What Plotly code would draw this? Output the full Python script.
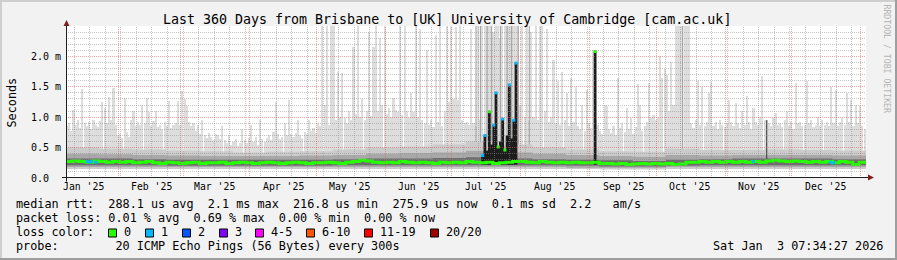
import plotly.graph_objects as go
import pandas as pd

# ---------------- data ----------------
START = "2025-01-08 07:34:27"
END = "2026-01-03 07:34:27"

# daily maximum of the 20 pings (ms); values >= 2.5 are clipped by the axis
smoke_max = [
    0.85, 0.90, 0.78, 1.12, 0.88, 0.95, 0.82, 1.47, 0.90, 0.86,
    0.92, 0.80, 0.96, 0.88, 0.84, 0.93, 1.25, 1.15, 0.90, 1.34,
    0.95, 1.48, 0.88, 0.70, 0.72, 0.66, 1.31, 0.75, 0.68, 0.95,
    1.10, 0.85, 0.92, 0.88, 1.20, 0.90, 1.31, 1.08, 0.86, 0.94,
    1.10, 0.84, 0.88, 0.80, 0.92, 0.86, 1.26, 0.82, 0.88, 0.90,
    1.26, 0.88, 1.43, 1.30, 1.18, 0.92, 0.85, 0.90, 0.78, 0.88,
    0.72, 0.95, 0.70, 0.66, 0.74, 0.68, 0.62, 0.72, 0.70, 0.64,
    0.85, 0.62, 0.58, 0.70, 0.55, 0.60, 0.64, 0.52, 0.58, 0.80,
    0.62, 0.58, 0.66, 0.87, 0.60, 0.68, 0.55, 0.95, 0.64, 0.60,
    0.66, 0.70, 0.62, 0.75, 1.25, 0.72, 0.64, 0.68, 0.90, 0.70,
    1.28, 0.72, 0.68, 0.74, 0.95, 0.70, 0.66, 0.76, 0.72, 0.95,
    0.78, 0.82, 0.74, 0.90, 0.86, 2.60, 1.20, 2.55, 0.88, 2.60,
    2.55, 0.95, 1.75, 1.00, 1.72, 0.98, 0.90, 1.10, 0.96, 2.16,
    1.05, 2.60, 1.00, 1.30, 0.95, 1.10, 2.40, 1.02, 2.16, 2.60,
    1.10, 2.30, 1.20, 2.60, 1.05, 1.15, 1.00, 1.31, 1.12, 1.08,
    2.60, 1.04, 2.50, 1.10, 0.98, 1.40, 1.08, 2.55, 1.00, 2.45,
    0.96, 0.90, 2.10, 0.88, 0.95, 0.84, 2.35, 0.92, 2.50, 0.86,
    1.10, 2.55, 1.25, 2.60, 1.30, 2.48, 1.28, 2.55, 0.95, 0.90,
    0.92, 0.88, 2.45, 0.90, 0.86, 2.50, 0.95, 2.60, 2.60, 2.60,
    2.60, 2.60, 2.40, 2.60, 2.60, 2.30, 2.60, 2.60, 2.60, 2.60,
    2.60, 2.60, 2.50, 2.60, 1.20, 2.55, 1.00, 2.60, 0.95, 2.40,
    1.00, 2.50, 0.95, 2.60, 2.55, 1.10, 2.45, 0.92, 1.00, 1.94,
    0.90, 1.60, 0.88, 1.75, 0.95, 1.40, 0.86, 1.65, 0.92, 1.50,
    0.85, 0.80, 1.20, 0.78, 1.45, 0.90, 0.82, 2.10, 0.95, 0.88,
    0.78, 0.72, 1.20, 1.18, 0.80, 0.74, 0.86, 0.70, 1.64, 0.82,
    0.90, 0.76, 1.15, 0.80, 0.98, 0.72, 0.84, 1.55, 1.20, 0.78,
    0.85, 0.92, 1.57, 0.98, 1.04, 0.95, 1.00, 2.00, 1.65, 1.80,
    1.70, 1.10, 1.90, 1.20, 2.60, 2.60, 2.60, 2.60, 2.60, 2.60,
    2.55, 0.90, 0.82, 0.95, 1.60, 0.88, 1.50, 0.85, 0.92, 1.40,
    1.58, 0.86, 0.92, 0.80, 0.95, 0.88, 0.84, 0.90, 1.28, 0.92,
    0.85, 1.23, 0.90, 0.82, 1.10, 0.88, 1.35, 0.92, 0.80, 1.15,
    0.92, 0.88, 1.00, 1.67, 0.95, 0.96, 0.90, 0.85, 0.98, 1.07,
    0.88, 0.90, 0.84, 0.95, 1.10, 0.86, 0.92, 0.80, 1.57, 0.90,
    0.92, 0.85, 0.88, 1.60, 0.90, 0.96, 0.84, 0.88, 1.00, 0.86,
    0.95, 0.88, 0.92, 0.85, 1.50, 0.90, 1.45, 0.86, 0.92, 0.98,
    0.88, 1.40, 0.92, 1.28, 0.85, 1.20, 0.90, 1.18, 0.86, 0.80,
]
smoke_floor = 0.15  # lowest ping (ms)

# median rtt, one value per 3 days (ms)
median_rtt = [
    0.27, 0.28, 0.27, 0.26, 0.28, 0.27, 0.26, 0.27,
    0.26, 0.27, 0.25, 0.26, 0.27, 0.25, 0.24, 0.26, 0.25, 0.24,
    0.25, 0.26, 0.24, 0.25, 0.25, 0.26, 0.24, 0.25, 0.26, 0.25,
    0.24, 0.25, 0.26, 0.25, 0.24, 0.25, 0.26, 0.25, 0.24, 0.25,
    0.25, 0.26, 0.25, 0.24, 0.26, 0.27, 0.29, 0.28, 0.26, 0.25,
    0.26, 0.25, 0.27, 0.26, 0.25, 0.26, 0.25, 0.24, 0.26, 0.25,
    0.26, 0.25, 0.27, 0.26, 0.25, 0.26, 0.24, 0.25, 0.26, 0.27,
    0.27, 0.26, 0.25, 0.27, 0.26, 0.25, 0.26, 0.25, 0.26, 0.25,
    0.25, 0.26, 0.24, 0.24, 0.23, 0.24, 0.22, 0.23, 0.24, 0.23,
    0.24, 0.23, 0.24, 0.22, 0.23, 0.26, 0.26, 0.27, 0.26, 0.27,
    0.26, 0.27, 0.26, 0.27, 0.26, 0.27, 0.26, 0.28, 0.29, 0.28,
    0.27, 0.28, 0.27, 0.26, 0.27, 0.26, 0.27, 0.25, 0.27, 0.26, 0.22, 0.26,
]

# smoke quantile bands, one value per 15 days (ms)
band_outer_lo = [0.15, 0.15, 0.15, 0.15, 0.15, 0.15, 0.15, 0.15, 0.15, 0.15, 0.15, 0.15,
                 0.15, 0.15, 0.15, 0.15, 0.14, 0.14, 0.15, 0.15, 0.15, 0.15, 0.15, 0.15]
band_outer_hi = [0.50, 0.48, 0.47, 0.45, 0.44, 0.42, 0.43, 0.44, 0.47, 0.50, 0.52, 0.55,
                 0.60, 0.55, 0.50, 0.47, 0.44, 0.43, 0.48, 0.46, 0.46, 0.47, 0.46, 0.45]
band_mid_lo = [0.18, 0.18, 0.18, 0.18, 0.18, 0.18, 0.18, 0.18, 0.18, 0.18, 0.18, 0.18,
               0.18, 0.18, 0.18, 0.17, 0.17, 0.17, 0.18, 0.18, 0.18, 0.18, 0.18, 0.18]
band_mid_hi = [0.40, 0.39, 0.38, 0.37, 0.36, 0.36, 0.36, 0.37, 0.38, 0.40, 0.41, 0.42,
               0.45, 0.42, 0.40, 0.38, 0.36, 0.35, 0.38, 0.37, 0.38, 0.38, 0.38, 0.37]
band_core_lo = [0.21, 0.21, 0.21, 0.20, 0.20, 0.20, 0.20, 0.20, 0.21, 0.21, 0.21, 0.21,
                0.21, 0.21, 0.21, 0.20, 0.19, 0.19, 0.20, 0.21, 0.21, 0.21, 0.21, 0.21]
band_core_hi = [0.32, 0.32, 0.31, 0.30, 0.30, 0.30, 0.30, 0.30, 0.31, 0.32, 0.32, 0.33,
                0.34, 0.32, 0.31, 0.30, 0.29, 0.28, 0.30, 0.31, 0.32, 0.32, 0.32, 0.31]

# high-latency episodes (day index, median value ms, loss count; None = no median mark)
event_days = [187, 188, 189, 190, 191, 192, 193, 194, 195, 196, 197, 198, 199, 200, 201, 202, 237.6]
event_tops = [0.37, 0.70, 0.45, 1.09, 0.55, 0.87, 1.40, 0.51, 0.60, 0.97, 0.46, 0.70, 1.53, 0.65, 0.95, 1.89, 2.08]
event_loss = [1, 1, None, 0, None, 1, 1, 0, None, 1, 0, None, 1, None, 1, 1, 0]

# darker smoke streaks (day index, top ms)
streak_days = [184, 186, 189, 191, 195, 198, 200, 203, 208, 277]
streak_tops = [2.60, 2.60, 2.60, 2.60, 2.60, 2.60, 2.60, 2.60, 2.60, 2.60]
dark_streak_days = [315.3]
dark_streak_tops = [0.95]

# medians with 1 lost ping
loss1_days = [9.5, 10.5, 11.5, 13.5, 309.3, 344.0, 345.5]
loss1_vals = [0.27, 0.26, 0.27, 0.26, 0.27, 0.26, 0.25]

month_labels = ["Jan '25", "Feb '25", "Mar '25", "Apr '25", "May '25", "Jun '25",
                "Jul '25", "Aug '25", "Sep '25", "Oct '25", "Nov '25", "Dec '25"]
month_label_dates = ["2025-01-16", "2025-02-16", "2025-03-16", "2025-04-16", "2025-05-16",
                     "2025-06-16", "2025-07-16", "2025-08-16", "2025-09-16", "2025-10-16",
                     "2025-11-16", "2025-12-16"]
ytick_vals = [0.0, 0.5, 1.0, 1.5, 2.0]
ytick_text = ["0.0", "0.5 m", "1.0 m", "1.5 m", "2.0 m"]

title = "Last 360 Days from Brisbane to [UK] University of Cambridge [cam.ac.uk]"
legend_lines = [
    "median rtt:  288.1 us avg  2.1 ms max  216.8 us min  275.9 us now  0.1 ms sd  2.2   am/s",
    "packet loss: 0.01 % avg  0.69 % max  0.00 % min  0.00 % now",
    "loss color:",
    "probe:        20 ICMP Echo Pings (56 Bytes) every 300s",
]
stamp = "Sat Jan  3 07:34:27 2026"
loss_labels = ["0", "1", "2", "3", "4-5", "6-10", "11-19", "20/20"]
loss_colors = ["#26ff00", "#00b8ff", "#0059ff", "#7e00ff", "#ff00ff", "#ff5500", "#ff0000", "#a10000"]

# ---------------- geometry helpers ----------------
W, H = 897, 260
L, R, T, B = 66, 31, 26, 82
PW, PH = W - L - R, H - T - B
FONT = "DejaVu Sans Mono"
t0 = pd.Timestamp(START)
t1 = pd.Timestamp(END)
YMAX = 2.5


def day(d):
    return t0 + pd.Timedelta(days=d)


def px(X):
    return (X - L) / PW


def py(Y):
    return (H - B - Y) / PH


def snap_x(t):
    X = L + (pd.Timestamp(t) - t0) / (t1 - t0) * PW
    return px(int(X) + 0.5)


def snap_y(v):
    Y = (H - B) - v / YMAX * PH
    return py(int(Y) + 0.5)


fig = go.Figure()

# light smoke (daily max)
fig.add_trace(go.Bar(
    x=[day(d + 0.5) for d in range(len(smoke_max))],
    y=[v - smoke_floor for v in smoke_max], base=smoke_floor,
    width=0.72 * 86400000, marker=dict(color="#dddddd", line=dict(width=0)),
    hoverinfo="skip"))

# darker smoke streaks
sx, sy = [], []
for d, t in zip(streak_days, streak_tops):
    sx += [day(d + 0.5), day(d + 0.5), None]
    sy += [0.3, t, None]
fig.add_trace(go.Scatter(x=sx, y=sy, mode="lines", line=dict(color="#a8a8a8", width=1.2), hoverinfo="skip"))

# quantile bands
band_x = [day(15 * i) for i in range(len(band_outer_hi))] + [t1]
for lo, hi, col in [(band_outer_lo, band_outer_hi, "#cbcbcb"),
                    (band_mid_lo, band_mid_hi, "#a8a8a8"),
                    (band_core_lo, band_core_hi, "#6e6e6e")]:
    fig.add_trace(go.Scatter(x=band_x, y=lo + [lo[-1]], mode="lines", line=dict(width=0, shape="hv"),
                             hoverinfo="skip"))
    fig.add_trace(go.Scatter(x=band_x, y=hi + [hi[-1]], mode="lines", line=dict(width=0, shape="hv"),
                             fill="tonexty", fillcolor=col, hoverinfo="skip"))

# dark streaks
dx, dy = [], []
for d, t in zip(dark_streak_days, dark_streak_tops):
    dx += [day(d), day(d), None]
    dy += [0.3, t, None]
fig.add_trace(go.Scatter(x=dx, y=dy, mode="lines", line=dict(color="#4a4a4a", width=1.2), hoverinfo="skip"))

# high-latency episodes (black smoke)
ex, ey = [], []
for d, t in zip(event_days, event_tops):
    ex += [day(d + 0.5), day(d + 0.5), None]
    ey += [0.22, t, None]
fig.add_trace(go.Scatter(x=ex, y=ey, mode="lines", line=dict(color="#1c1c1c", width=2.8), hoverinfo="skip"))

# median line
fig.add_trace(go.Scatter(
    x=[day(3 * i) for i in range(len(median_rtt))] + [t1],
    y=median_rtt + [median_rtt[-1]], mode="lines",
    line=dict(color=loss_colors[0], width=3, shape="hv"), hoverinfo="skip"))

# loss-coloured median marks
mx, my, mc = [], [], []
for d, t, lo in zip(event_days, event_tops, event_loss):
    if lo is not None:
        mx.append(day(d + 0.5))
        my.append(t)
        mc.append(loss_colors[lo])
for d, v in zip(loss1_days, loss1_vals):
    mx.append(day(d))
    my.append(v)
    mc.append(loss_colors[1])
fig.add_trace(go.Scatter(x=mx, y=my, mode="markers",
                         marker=dict(symbol="square", size=3, color=mc, line=dict(width=0)),
                         hoverinfo="skip"))

# ---------------- grid, axes, frame ----------------
shapes = []
MINOR = "rgba(140,140,140,0.5)"
MAJOR = "rgba(222,79,79,0.5)"
DASH = "1px,1px"
months = pd.date_range("2025-02-01", "2026-01-01", freq="MS")
weeks = [w for w in pd.date_range("2025-01-12", "2026-01-03", freq="7D") if w not in set(months)]
for w in weeks:
    xs = snap_x(w)
    shapes.append(dict(type="line", xref="paper", yref="paper", x0=xs, x1=xs, y0=0, y1=1, layer="above",
                       line=dict(color=MINOR, width=1, dash=DASH)))
for k in range(1, 25):
    v = k / 10
    if k % 5:
        ys = snap_y(v)
        shapes.append(dict(type="line", xref="paper", yref="paper", x0=0, x1=1, y0=ys, y1=ys, layer="above",
                           line=dict(color=MINOR, width=1, dash=DASH)))
for k in range(1, 5):
    ys = snap_y(k / 2)
    shapes.append(dict(type="line", xref="paper", yref="paper", x0=0, x1=1, y0=ys, y1=ys, layer="above",
                       line=dict(color=MAJOR, width=1, dash=DASH)))
for m in months:
    xs = snap_x(m)
    shapes.append(dict(type="line", xref="paper", yref="paper", x0=xs, x1=xs, y0=0, y1=1, layer="above",
                       line=dict(color=MAJOR, width=1, dash=DASH)))

AX = "#1f1f1f"
ARROW = "#7f1f1f"
shapes.append(dict(type="line", xref="paper", yref="paper", x0=px(62), x1=px(869), y0=py(177.5), y1=py(177.5),
                   layer="above", line=dict(color=AX, width=1)))
shapes.append(dict(type="line", xref="paper", yref="paper", x0=px(66.5), x1=px(66.5), y0=py(181.5), y1=py(24),
                   layer="above", line=dict(color=AX, width=1)))
shapes.append(dict(type="path", xref="paper", yref="paper", layer="above",
                   path=f"M{px(868)},{py(174.5)} L{px(868)},{py(180.5)} L{px(874)},{py(177.5)} Z",
                   fillcolor=ARROW, line=dict(width=0)))
shapes.append(dict(type="path", xref="paper", yref="paper", layer="above",
                   path=f"M{px(63.5)},{py(26)} L{px(69.5)},{py(26)} L{px(66.5)},{py(20)} Z",
                   fillcolor=ARROW, line=dict(width=0)))
# 3-D frame
for x0, y0, x1, y1, c in [(0, 0, W, 2, "#cfcfcf"), (0, 0, 2, H, "#cfcfcf"),
                          (0, H - 2, W, H, "#9e9e9e"), (W - 2, 0, W, H, "#9e9e9e")]:
    shapes.append(dict(type="rect", xref="paper", yref="paper", x0=px(x0), x1=px(x1), y0=py(y1), y1=py(y0),
                       fillcolor=c, line=dict(width=0), layer="above"))

# loss colour boxes
box_x = [108.5, 145.5, 182.5, 219.5, 255.5, 306.5, 364.5, 430.5]
for bx, c in zip(box_x, loss_colors):
    shapes.append(dict(type="rect", xref="paper", yref="paper", x0=px(bx), x1=px(bx + 8),
                       y0=py(237), y1=py(229), fillcolor=c, line=dict(color="#000", width=1), layer="above"))

# ---------------- text ----------------
ann = []


def txt(X, Y, s, size, anchor="left", color="#000", angle=0):
    ann.append(dict(x=px(X), y=py(Y), xref="paper", yref="paper", text=s.replace(" ", "\u00a0"),
                    showarrow=False, xanchor=anchor, yanchor="middle", borderpad=0, borderwidth=0,
                    textangle=angle, font=dict(family=FONT, size=size, color=color)))


txt(447, 19, title, 13.3, anchor="center")
txt(11, 102.5, "Seconds", 11.8, anchor="center", angle=-90)
txt(886.5, 59, "RRDTOOL / TOBI OETIKER", 8.2, anchor="center", color="#b4b4b4", angle=90)
for v, s in zip(ytick_vals, ytick_text):
    ann.append(dict(x=px(30), y=v, xref="paper", yref="y", text=s.replace(" ", "\u00a0"), showarrow=False,
                    xanchor="left", yanchor="middle", borderpad=0,
                    font=dict(family=FONT, size=10, color="#000")))
for d, s in zip(month_label_dates, month_labels):
    ann.append(dict(x=d, y=py(186.5), xref="x", yref="paper", text=s, showarrow=False,
                    xanchor="center", yanchor="middle", borderpad=0,
                    font=dict(family=FONT, size=9.8, color="#000")))
for Y, s in zip([204, 218.3, 232.3, 246], legend_lines):
    txt(16, Y, s, 11.8)
for bx, s in zip(box_x, loss_labels):
    txt(bx + 15, 232.3, s, 11.8)
txt(713, 246, stamp, 11.8)

fig.update_layout(
    width=W, height=H, margin=dict(l=L, r=R, t=T, b=B, pad=0),
    paper_bgcolor="#f2f2f2", plot_bgcolor="#ffffff",
    showlegend=False, barmode="overlay", bargap=0,
    xaxis=dict(range=[t0, t1], type="date", showgrid=False, zeroline=False, showticklabels=False,
               ticks="", showline=False, fixedrange=True),
    yaxis=dict(range=[0, YMAX], showgrid=False, zeroline=False, showticklabels=False,
               ticks="", showline=False, fixedrange=True),
    shapes=shapes, annotations=ann,
)
fig.write_html("out.html", config={"displayModeBar": False})
